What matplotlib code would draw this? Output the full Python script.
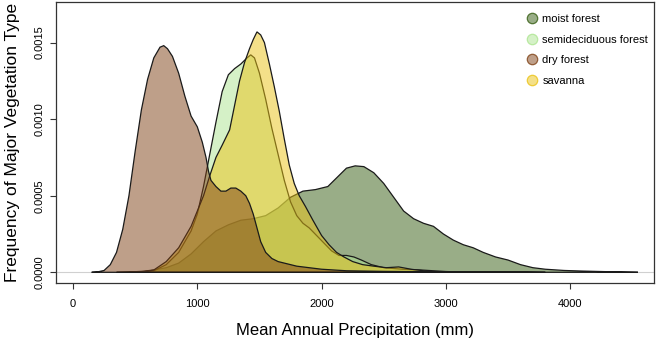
import matplotlib
matplotlib.use("Agg")
import matplotlib.pyplot as plt
from matplotlib.lines import Line2D

plt.rcParams["font.family"] = ["Liberation Sans", "DejaVu Sans"]

# density curves (x in mm, y = density)
moist_x = [350, 450, 550, 650, 750, 850, 950, 1050, 1150, 1250, 1350, 1450, 1550, 1650,
           1750, 1850, 1950, 2050, 2150, 2200, 2270, 2340, 2420, 2500, 2580, 2660, 2740,
           2820, 2900, 2980, 3060, 3140, 3220, 3300, 3400, 3500, 3600, 3700, 3800, 3950,
           4100, 4300, 4545]
moist_y = [0, 0.000002, 0.000006, 0.000015, 0.00003, 0.00006, 0.00012, 0.0002, 0.00027,
           0.00031, 0.00034, 0.00035, 0.00037, 0.00042, 0.00049, 0.00053, 0.00054, 0.00056,
           0.00064, 0.00068, 0.000695, 0.00069, 0.00065, 0.00058, 0.00049, 0.0004, 0.00035,
           0.00032, 0.0003, 0.00025, 0.00021, 0.00018, 0.00016, 0.00013, 0.0001, 0.00008,
           0.00005, 0.00003, 0.00002, 0.000012, 0.000008, 0.000004, 0]

semi_x = [450, 550, 650, 750, 850, 950, 1000, 1050, 1100, 1150, 1200, 1250, 1300, 1350,
          1400, 1430, 1460, 1500, 1550, 1600, 1650, 1700, 1750, 1800, 1850, 1900, 1960,
          2020, 2080, 2140, 2200, 2260, 2320, 2400, 2500, 2650, 2800, 3000, 3200]
semi_y = [0, 0.000003, 0.00001, 0.00005, 0.00013, 0.00027, 0.00038, 0.00056, 0.00077,
          0.00098, 0.00118, 0.00129, 0.00133, 0.00136, 0.0014, 0.00142, 0.0014, 0.0013,
          0.00113, 0.00094, 0.00077, 0.0006, 0.00046, 0.00037, 0.00032, 0.00029, 0.00024,
          0.00019, 0.00014, 0.00011, 0.00011, 0.0001, 0.00008, 0.00005, 0.00003, 0.00002,
          0.000015, 0.000005, 0]

dry_x = [150, 200, 250, 300, 350, 400, 450, 500, 550, 600, 650, 700, 730, 760, 800, 850,
         900, 950, 1000, 1040, 1070, 1090, 1110, 1150, 1190, 1230, 1270, 1310, 1350, 1390,
         1420, 1450, 1480, 1510, 1550, 1600, 1650, 1700, 1800, 1900, 2000, 2200, 2500,
         2800, 3200, 3600, 3800]
dry_y = [0, 0.000003, 0.000012, 0.00005, 0.00013, 0.00028, 0.0005, 0.00079, 0.00106,
         0.00126, 0.0014, 0.00147, 0.00148, 0.00146, 0.00141, 0.0013, 0.00115, 0.00102,
         0.00095, 0.00085, 0.00075, 0.00066, 0.0006, 0.00056, 0.00053, 0.00053, 0.00055,
         0.00055, 0.00053, 0.0005, 0.00045, 0.00038, 0.00029, 0.0002, 0.00013, 0.00009,
         0.00007, 0.00006, 0.00004, 0.00003, 0.00002, 0.00001, 0.000006, 0.000004,
         0.000003, 0.000003, 0]

sav_x = [550, 650, 750, 850, 950, 1050, 1100, 1150, 1200, 1260, 1300, 1340, 1380, 1420,
         1450, 1480, 1510, 1540, 1580, 1620, 1660, 1700, 1740, 1780, 1820, 1870, 1930,
         2000, 2060, 2120, 2180, 2250, 2330, 2420, 2520, 2620, 2720, 2820, 2920]
sav_y = [0, 0.000015, 0.00007, 0.00016, 0.0003, 0.0005, 0.00063, 0.00075, 0.00083,
         0.00093, 0.00109, 0.00125, 0.00137, 0.00146, 0.00152, 0.00157, 0.00155, 0.0015,
         0.00136, 0.00121, 0.00105, 0.00087, 0.0007, 0.00058, 0.0005, 0.00043, 0.00034,
         0.00024, 0.00018, 0.00013, 0.0001, 0.00007, 0.00005, 0.00004, 0.00003, 0.000035,
         0.00002, 0.00001, 0]

labels = ["moist forest", "semideciduous forest", "dry forest", "savanna"]
colors = {"moist forest": "#355d11", "semideciduous forest": "#ade591",
          "dry forest": "#7f4115", "savanna": "#ebc315"}

fig = plt.figure(figsize=(6.57, 3.4), dpi=100)
ax = fig.add_axes([0.0852, 0.1685, 0.9102, 0.8265])

ax.axhline(0, color="#d0d0d0", lw=0.8, zorder=0)

# drawing order: moist, semi, savanna, dry
curves = [("moist forest", moist_x, moist_y),
          ("semideciduous forest", semi_x, semi_y),
          ("savanna", sav_x, sav_y),
          ("dry forest", dry_x, dry_y)]
for name, xs, ys in curves:
    ax.fill(xs, ys, facecolor=colors[name], alpha=0.5, edgecolor="none")
    ax.fill(xs, ys, facecolor="none", edgecolor="#1a1a1a", lw=0.9)

ax.set_xlim(-137, 4674)
ax.set_ylim(-0.000068, 0.001767)
ax.set_xticks([0, 1000, 2000, 3000, 4000])
ax.set_yticks([0, 0.0005, 0.0010, 0.0015])
ax.set_yticklabels(["0.0000", "0.0005", "0.0010", "0.0015"], rotation=90, va="center")
ax.tick_params(labelsize=8, length=4.5, width=0.8, color="#333333")
ax.tick_params(axis="x", pad=7)
ax.tick_params(axis="y", pad=4)
for s in ax.spines.values():
    s.set_linewidth(0.9)
    s.set_color("#333333")

ax.set_xlabel("Mean Annual Precipitation (mm)", fontsize=12, labelpad=10)
ax.set_ylabel("Frequency of Major Vegetation Type", fontsize=12.5, labelpad=10)

handles = [Line2D([], [], ls="none", marker="o", markersize=7.5,
                  markerfacecolor=matplotlib.colors.to_rgba(colors[n], 0.5),
                  markeredgecolor=matplotlib.colors.to_rgba(colors[n], 0.8),
                  markeredgewidth=0.9) for n in labels]
ax.legend(handles, labels, loc="upper left", bbox_to_anchor=(0.78, 0.972),
          frameon=False, fontsize=8, handlelength=1.0, handletextpad=0.4,
          labelspacing=0.95, borderaxespad=0)

fig.savefig("out.png", dpi=100)
plt.close(fig)
